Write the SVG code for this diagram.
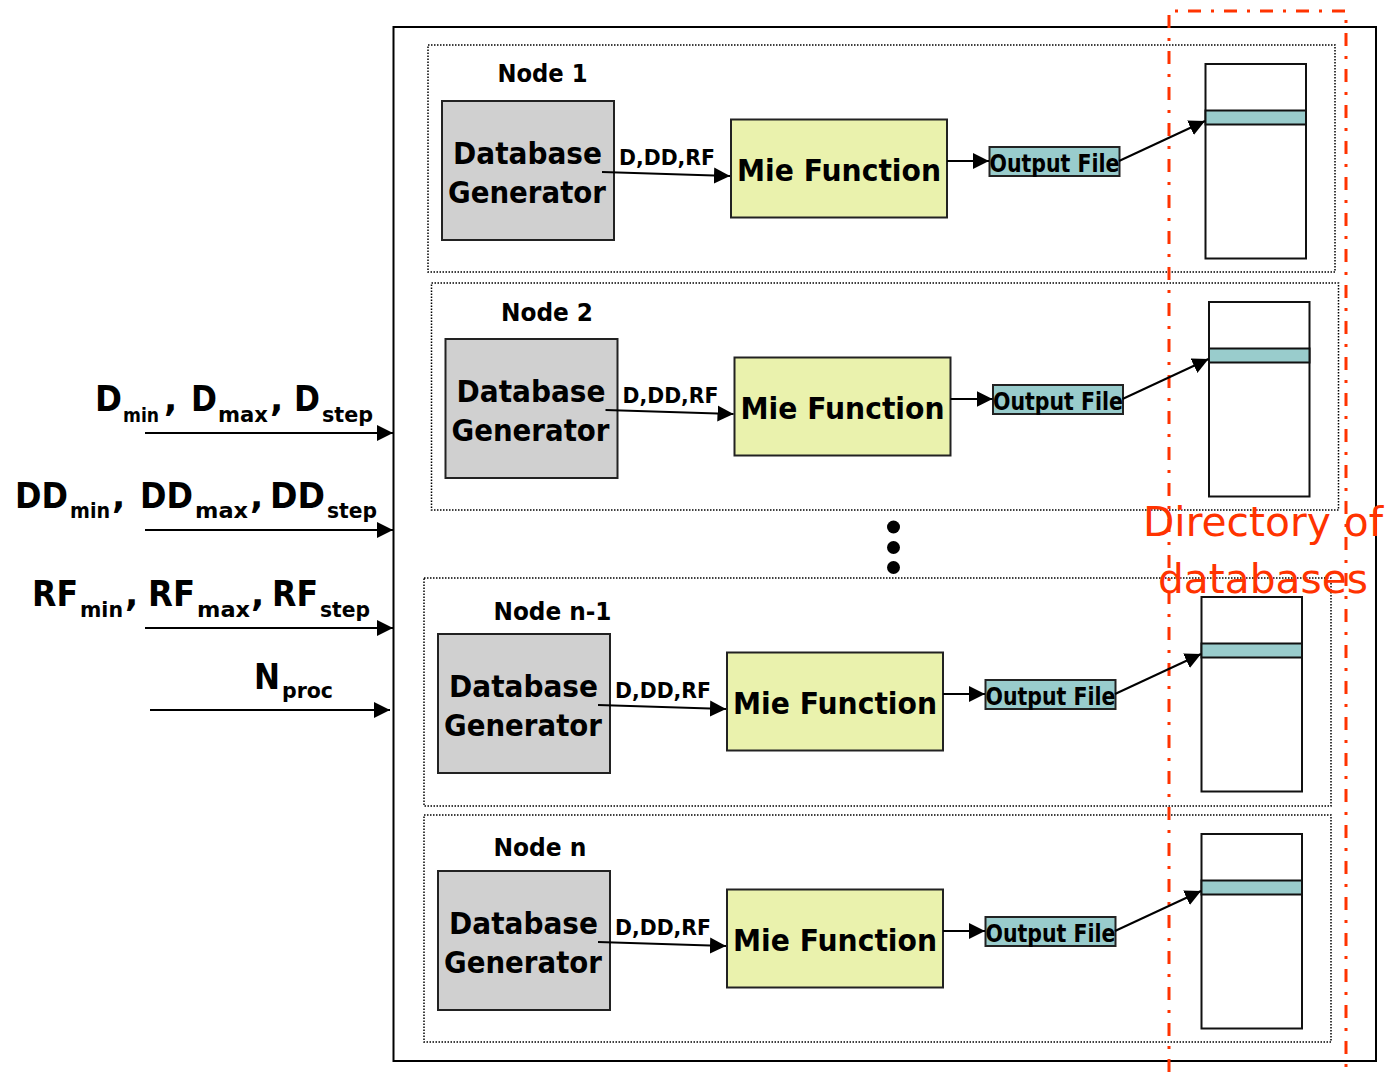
<svg xmlns="http://www.w3.org/2000/svg" width="1390" height="1072" viewBox="0 0 1390 1072">
<style>
.t{font-family:"DejaVu Sans",Verdana,sans-serif;font-weight:bold;fill:#000}
.big{font-size:35px}
.sub{font-size:21px}
.lbl{font-size:24px}
.db{font-size:31px}
.ddrf{font-size:21px}
.mie{font-size:30px}
.out{font-size:24px}
.red{font-family:"DejaVu Sans",Verdana,sans-serif;font-size:41px;fill:#ff3300}
.dot{fill:none;stroke:#000;stroke-width:1.5;stroke-dasharray:1.5 1.5}
.gen{fill:#d0d0d0;stroke:#222;stroke-width:2}
.miebox{fill:#eaf2ad;stroke:#222;stroke-width:2}
.ofile{fill:#99cccc;stroke:#222;stroke-width:2}
.col{fill:#fff;stroke:#111;stroke-width:2}
.band{fill:#99cccc;stroke:#111;stroke-width:2}
.ln{stroke:#000;stroke-width:2;fill:none;marker-end:url(#ah)}
</style>
<defs>
<marker id="ah" markerUnits="userSpaceOnUse" markerWidth="17" markerHeight="17" refX="16" refY="8" orient="auto" viewBox="0 0 17 16">
<path d="M0,0 L16,8 L0,16 z" fill="#000"/>
</marker>
</defs>
<rect width="1390" height="1072" fill="#fff"/>

<g id="system">
<rect x="393.5" y="27" width="982.5" height="1034" fill="none" stroke="#000" stroke-width="2"/>
</g>

<g id="node1">
<rect class="dot" x="428" y="45" width="907" height="227"/>
<text class="t lbl" x="497.5" y="82" textLength="90" lengthAdjust="spacingAndGlyphs">Node 1</text>
<g id="gen1"><rect class="gen" x="442" y="101" width="172" height="139"/>
<text class="t db" x="453" y="164" textLength="149" lengthAdjust="spacingAndGlyphs">Database</text>
<text class="t db" x="448" y="203" textLength="158" lengthAdjust="spacingAndGlyphs">Generator</text></g>
<text class="t ddrf" x="619" y="164.5" textLength="96" lengthAdjust="spacingAndGlyphs">D,DD,RF</text>
<g id="mie1"><rect class="miebox" x="731" y="119.5" width="216" height="98"/>
<text class="t mie" x="737" y="180.5" textLength="204" lengthAdjust="spacingAndGlyphs">Mie Function</text></g>
<g id="out1"><rect class="ofile" x="989.5" y="147" width="130" height="29"/>
<text class="t out" x="989.5" y="171.5" textLength="130" lengthAdjust="spacingAndGlyphs">Output File</text></g>
<g id="col1"><rect class="col" x="1205.5" y="64" width="100.5" height="194.5"/>
<rect class="band" x="1205.5" y="110.5" width="100.5" height="14"/></g>
</g>

<g id="node2" transform="translate(3.5,238)">
<rect class="dot" x="428" y="45" width="907" height="227"/>
<text class="t lbl" x="497.5" y="83" textLength="92" lengthAdjust="spacingAndGlyphs">Node 2</text>
<g id="gen2"><rect class="gen" x="442" y="101" width="172" height="139"/>
<text class="t db" x="453" y="164" textLength="149" lengthAdjust="spacingAndGlyphs">Database</text>
<text class="t db" x="448" y="203" textLength="158" lengthAdjust="spacingAndGlyphs">Generator</text></g>
<text class="t ddrf" x="619" y="164.5" textLength="96" lengthAdjust="spacingAndGlyphs">D,DD,RF</text>
<g id="mie2"><rect class="miebox" x="731" y="119.5" width="216" height="98"/>
<text class="t mie" x="737" y="180.5" textLength="204" lengthAdjust="spacingAndGlyphs">Mie Function</text></g>
<g id="out2"><rect class="ofile" x="989.5" y="147" width="130" height="29"/>
<text class="t out" x="989.5" y="171.5" textLength="130" lengthAdjust="spacingAndGlyphs">Output File</text></g>
<g id="col2"><rect class="col" x="1205.5" y="64" width="100.5" height="194.5"/>
<rect class="band" x="1205.5" y="110.5" width="100.5" height="14"/></g>
</g>

<g id="ellipsis">
<circle cx="893.5" cy="527" r="6.5" fill="#000"/>
<circle cx="893.5" cy="547.5" r="6.5" fill="#000"/>
<circle cx="893.5" cy="567.5" r="6.5" fill="#000"/>
</g>

<g id="noden-1" transform="translate(-4,533)">
<rect class="dot" x="428" y="45" width="907" height="228"/>
<text class="t lbl" x="497.5" y="87" textLength="118" lengthAdjust="spacingAndGlyphs">Node n-1</text>
<g id="genn-1"><rect class="gen" x="442" y="101" width="172" height="139"/>
<text class="t db" x="453" y="164" textLength="149" lengthAdjust="spacingAndGlyphs">Database</text>
<text class="t db" x="448" y="203" textLength="158" lengthAdjust="spacingAndGlyphs">Generator</text></g>
<text class="t ddrf" x="619" y="164.5" textLength="96" lengthAdjust="spacingAndGlyphs">D,DD,RF</text>
<g id="mien-1"><rect class="miebox" x="731" y="119.5" width="216" height="98"/>
<text class="t mie" x="737" y="180.5" textLength="204" lengthAdjust="spacingAndGlyphs">Mie Function</text></g>
<g id="outn-1"><rect class="ofile" x="989.5" y="147" width="130" height="29"/>
<text class="t out" x="989.5" y="171.5" textLength="130" lengthAdjust="spacingAndGlyphs">Output File</text></g>
<g id="coln-1"><rect class="col" x="1205.5" y="64" width="100.5" height="194.5"/>
<rect class="band" x="1205.5" y="110.5" width="100.5" height="14"/></g>
</g>

<g id="noden" transform="translate(-4,770)">
<rect class="dot" x="428" y="45" width="907" height="227"/>
<text class="t lbl" x="497.5" y="86" textLength="93" lengthAdjust="spacingAndGlyphs">Node n</text>
<g id="genn"><rect class="gen" x="442" y="101" width="172" height="139"/>
<text class="t db" x="453" y="164" textLength="149" lengthAdjust="spacingAndGlyphs">Database</text>
<text class="t db" x="448" y="203" textLength="158" lengthAdjust="spacingAndGlyphs">Generator</text></g>
<text class="t ddrf" x="619" y="164.5" textLength="96" lengthAdjust="spacingAndGlyphs">D,DD,RF</text>
<g id="mien"><rect class="miebox" x="731" y="119.5" width="216" height="98"/>
<text class="t mie" x="737" y="180.5" textLength="204" lengthAdjust="spacingAndGlyphs">Mie Function</text></g>
<g id="outn"><rect class="ofile" x="989.5" y="147" width="130" height="29"/>
<text class="t out" x="989.5" y="171.5" textLength="130" lengthAdjust="spacingAndGlyphs">Output File</text></g>
<g id="coln"><rect class="col" x="1205.5" y="64" width="100.5" height="194.5"/>
<rect class="band" x="1205.5" y="110.5" width="100.5" height="14"/></g>
</g>

<g id="directory">
<path d="M1169,1072 V11 H1346 V1072" fill="none" stroke="#ff3300" stroke-width="3" stroke-dasharray="13 10 3 10"/>
<text class="red" x="1143" y="536" textLength="240" lengthAdjust="spacingAndGlyphs">Directory of</text>
<text class="red" x="1158" y="593" textLength="210" lengthAdjust="spacingAndGlyphs">databases</text>
</g>

<g id="inputs">
<text class="t big" x="95" y="411" textLength="27" lengthAdjust="spacingAndGlyphs">D</text><text class="t sub" x="123" y="422" font-size="19.5" style="font-size:19.5px" textLength="36" lengthAdjust="spacingAndGlyphs">min</text><text class="t big" x="164" y="411">,</text>
<text class="t big" x="191" y="411" textLength="26" lengthAdjust="spacingAndGlyphs">D</text><text class="t sub" x="218" y="422" textLength="50" lengthAdjust="spacingAndGlyphs">max</text><text class="t big" x="270" y="411">,</text>
<text class="t big" x="294" y="411" textLength="26" lengthAdjust="spacingAndGlyphs">D</text><text class="t sub" x="322" y="422" textLength="51" lengthAdjust="spacingAndGlyphs">step</text>

<text class="t big" x="15" y="508" textLength="53" lengthAdjust="spacingAndGlyphs">DD</text><text class="t sub" x="70" y="518" textLength="40" lengthAdjust="spacingAndGlyphs">min</text><text class="t big" x="112" y="508">,</text>
<text class="t big" x="140" y="508" textLength="53" lengthAdjust="spacingAndGlyphs">DD</text><text class="t sub" x="195" y="518" textLength="53" lengthAdjust="spacingAndGlyphs">max</text><text class="t big" x="250" y="508">,</text>
<text class="t big" x="270" y="508" textLength="55" lengthAdjust="spacingAndGlyphs">DD</text><text class="t sub" x="327" y="518" textLength="50" lengthAdjust="spacingAndGlyphs">step</text>

<text class="t big" x="32" y="606" textLength="46" lengthAdjust="spacingAndGlyphs">RF</text><text class="t sub" x="80" y="617" textLength="43" lengthAdjust="spacingAndGlyphs">min</text><text class="t big" x="125" y="606">,</text>
<text class="t big" x="148" y="606" textLength="47" lengthAdjust="spacingAndGlyphs">RF</text><text class="t sub" x="197" y="617" textLength="53" lengthAdjust="spacingAndGlyphs">max</text><text class="t big" x="251" y="606">,</text>
<text class="t big" x="272" y="606" textLength="46" lengthAdjust="spacingAndGlyphs">RF</text><text class="t sub" x="320" y="617" textLength="50" lengthAdjust="spacingAndGlyphs">step</text>

<text class="t big" x="254" y="689" textLength="26" lengthAdjust="spacingAndGlyphs">N</text><text class="t sub" x="282" y="698" textLength="51" lengthAdjust="spacingAndGlyphs">proc</text>
</g>

<g id="connectors">
<line class="ln" x1="145" y1="433" x2="393" y2="433"/>
<line class="ln" x1="145" y1="530" x2="393" y2="530"/>
<line class="ln" x1="145" y1="628" x2="393" y2="628"/>
<line class="ln" x1="150" y1="710" x2="390" y2="710"/>

<line class="ln" x1="602" y1="172" x2="730" y2="176"/>
<line class="ln" x1="947" y1="161" x2="989" y2="161"/>
<line class="ln" x1="1119" y1="161" x2="1205" y2="121"/>

<line class="ln" x1="605.5" y1="410" x2="733.5" y2="414"/>
<line class="ln" x1="950.5" y1="399" x2="992.5" y2="399"/>
<line class="ln" x1="1122.5" y1="399" x2="1208.5" y2="359"/>

<line class="ln" x1="598" y1="705" x2="726" y2="709"/>
<line class="ln" x1="943" y1="694" x2="985" y2="694"/>
<line class="ln" x1="1115" y1="694" x2="1201" y2="654"/>

<line class="ln" x1="598" y1="942" x2="726" y2="946"/>
<line class="ln" x1="943" y1="931" x2="985" y2="931"/>
<line class="ln" x1="1115" y1="931" x2="1201" y2="891"/>
</g>
</svg>
